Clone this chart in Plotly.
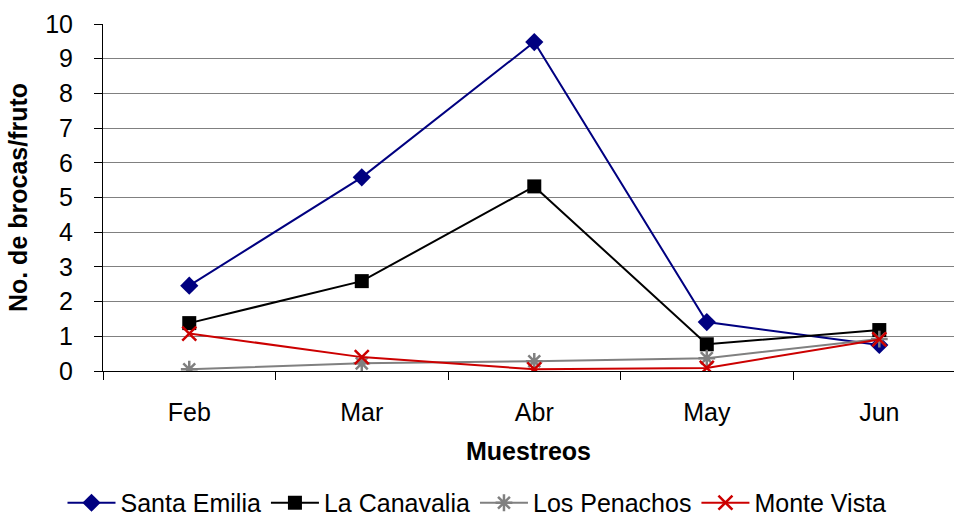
import plotly.graph_objects as go

months = ["Feb", "Mar", "Abr", "May", "Jun"]
santa_emilia = [2.46, 5.58, 9.48, 1.41, 0.75]
la_canavalia = [1.38, 2.59, 5.32, 0.77, 1.18]
los_penachos = [0.05, 0.22, 0.28, 0.37, 0.92]
monte_vista = [1.08, 0.40, 0.05, 0.09, 0.91]
y_ticks = list(range(0, 11))

FONT = "Liberation Sans, Arial, sans-serif"

fig = go.Figure()

fig.add_trace(go.Scatter(
    x=months, y=santa_emilia, name="Santa Emilia", mode="lines+markers",
    line=dict(color="#000080", width=2),
    marker=dict(symbol="diamond", size=14, color="#000080")))
fig.add_trace(go.Scatter(
    x=months, y=la_canavalia, name="La Canavalia", mode="lines+markers",
    line=dict(color="#000000", width=2),
    marker=dict(symbol="square", size=14, color="#000000")))
fig.add_trace(go.Scatter(
    x=months, y=los_penachos, name="Los Penachos", mode="lines+markers",
    line=dict(color="#808080", width=2),
    marker=dict(symbol="asterisk-open", size=14, color="#808080",
                line=dict(color="#808080", width=2.5))))
fig.add_trace(go.Scatter(
    x=months, y=monte_vista, name="Monte Vista", mode="lines+markers",
    line=dict(color="#CC0000", width=2),
    marker=dict(symbol="x-thin-open", size=14, color="#CC0000",
                line=dict(color="#CC0000", width=2.5))))

fig.update_layout(
    width=954, height=518,
    margin=dict(l=103, r=0, t=24, b=146.5),
    paper_bgcolor="white", plot_bgcolor="white",
    font=dict(family=FONT, size=25, color="black"),
    showlegend=True,
    legend=dict(orientation="h", xref="container", yref="container",
                x=0.5, xanchor="center", y=0.029, yanchor="middle",
                font=dict(family=FONT, size=25, color="black"),
                itemwidth=48, tracegroupgap=0),
)

fig.update_xaxes(
    type="category", range=[-0.5, 4.433],
    showline=True, linecolor="black", linewidth=1,
    ticks="outside", tickson="boundaries", ticklen=8, tickcolor="black",
    ticklabelstandoff=19,
    showgrid=False, zeroline=False,
    tickfont=dict(family=FONT, size=25, color="black"),
    title=dict(text="<b>Muestreos</b>", font=dict(family=FONT, size=25, color="black"),
               standoff=17),
)
fig.update_yaxes(
    range=[0, 10], tickvals=y_ticks,
    showline=True, linecolor="black", linewidth=1,
    ticks="outside", ticklen=8, tickcolor="black",
    ticklabelstandoff=16,
    showgrid=True, gridcolor="#808080", gridwidth=1,
    zeroline=False,
    tickfont=dict(family=FONT, size=25, color="black"),
    title=dict(text="<b>No. de brocas/fruto</b>", font=dict(family=FONT, size=25, color="black"),
               standoff=10),
)

fig.write_html("out.html",
               config={"displayModeBar": False},
               post_script="document.body.style.margin='0';document.body.style.overflow='hidden';")
